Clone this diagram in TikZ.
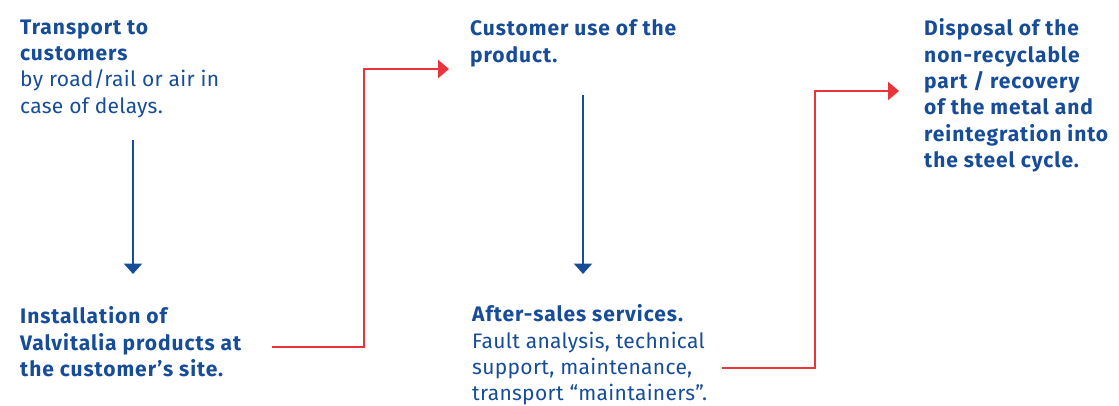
\documentclass[tikz,border=0pt]{standalone}
\usepackage{fontspec}
\setmainfont{Fira Sans}[LetterSpace=1.5, BoldFeatures={LetterSpace=4.5}]
\usetikzlibrary{arrows.meta}
\definecolor{vblue}{RGB}{22,76,152}
\definecolor{vred}{RGB}{232,52,58}
\begin{document}
\begin{tikzpicture}[x=1pt,y=-1pt,
  % text blocks are placed by the top of a strut on their first line
  txt/.style={anchor=north west, inner sep=0pt, align=left, text=vblue,
    font=\fontsize{21}{26.3}\selectfont, execute at begin node=\strut},
  flow/.style={draw=vblue, line width=2.4pt,
    -{Triangle[length=10.5pt,width=18pt]}},
  link/.style={draw=vred, line width=2.6pt,
    -{Triangle[length=11pt,width=18pt]}}]
\useasboundingbox (0,0) rectangle (1119,405);

% the five stages (first baseline = y + 18.4)
\node[txt] (t1) at (20,19.6) {\textbf{Transport to}\\\textbf{customers}\\by road/rail or air in\\case of delays.};
\node[txt] (t2) at (20,306.6) {\textbf{Installation of}\\\textbf{Valvitalia products at}\\\textbf{the customer’s site.}};
\node[txt] (t3) at (470,19.6) {\textbf{Customer use of the}\\\textbf{product.}};
\node[txt] (t4) at (472,304.6) {\textbf{After-sales services.}\\Fault analysis, technical\\support, maintenance,\\transport “maintainers”.};
\node[txt] (t5) at (924,18.6) {\textbf{Disposal of the}\\\textbf{non-recyclable}\\\textbf{part / recovery}\\\textbf{of the metal and}\\\textbf{reintegration into}\\\textbf{the steel cycle.}};

% connector end points
\coordinate (a1s) at (133,140);
\coordinate (a1e) at (133,274);
\coordinate (a2s) at (583,95);
\coordinate (a2e) at (583,274);
\coordinate (r1s) at (272,347);
\coordinate (r1e) at (449,69);
\coordinate (r2s) at (722,368);
\coordinate (r2e) at (899,91);

% vertical steps within a column
\draw[flow] (a1s) -- (a1e);
\draw[flow] (a2s) -- (a2e);

% steps to the next column
\draw[link] (r1s) -- (364,347) |- (r1e);
\draw[link] (r2s) -- (815,368) |- (r2e);
\end{tikzpicture}
\end{document}
